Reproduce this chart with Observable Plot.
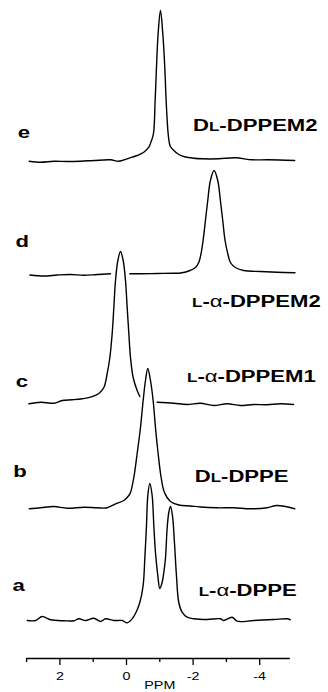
<!DOCTYPE html>
<html><head><meta charset="utf-8">
<script src="https://cdn.jsdelivr.net/npm/d3@7"></script>
<script src="https://cdn.jsdelivr.net/npm/@observablehq/plot@0.6"></script>
<style>html,body{margin:0;padding:0;background:#fff;overflow:hidden}</style>
</head><body><div id="chart"></div>
<script>
// ---------- data ----------
const traceNames = ["a", "b", "c", "d", "e"];
const compoundLabels = ["L-α-DPPE", "DL-DPPE", "L-α-DPPEM1", "L-α-DPPEM2", "DL-DPPEM2"];
const majorTicks = [2, 0, -2, -4];
const minorTicks = [3, 1, -1, -3];
const axisLabel = "PPM";

const aPpm = [2.98, 2.73, 2.53, 2.28, 1.88, 1.58, 1.43, 1.23, 0.98, 0.78, 0.63, 0.38, 0.13, -0.02, -0.17, -0.27, -0.40, -0.50, -0.55, -0.60, -0.64, -0.70, -0.77, -0.82, -0.87, -0.94, -1.00, -1.07, -1.12, -1.17, -1.22, -1.27, -1.32, -1.38, -1.44, -1.50, -1.57, -1.67, -1.82, -2.02, -2.42, -2.82, -2.92, -3.17, -3.32, -3.82, -4.42, -4.83, -4.92];
const aInt = [0, 0, 4, 0.7, -0.3, -0.3, 1.7, 0, 2.3, -1, 1.7, 0, 0, -2.3, 1.7, 7, 18, 35, 62, 95, 125, 137, 125, 95, 68, 45, 32, 38, 48, 62, 92, 108, 114, 105, 78, 45, 18, 8.3, 3.3, 1.7, 1, 1.7, 0, 3.3, -0.7, 0, 1, 1.7, 0.7];

const bPpm = [2.92, 2.58, 2.18, 1.78, 1.28, 0.88, 0.58, 0.33, 0.08, -0.07, -0.12, -0.22, -0.32, -0.42, -0.50, -0.57, -0.64, -0.72, -0.80, -0.87, -0.95, -1.04, -1.14, -1.32, -1.57, -1.92, -2.22, -2.72, -3.22, -3.72, -4.22, -4.52, -5.05];
const bInt = [-0.3, 0.7, 2, 0.3, 1.3, 0.7, 0.7, 4.7, 8, 13, 16, 31, 55, 81, 108, 128, 140, 128, 108, 81, 55, 31, 16, 7, 3.5, 2.5, 1.5, 0.7, 0.7, -0.3, 0.7, 3, -0.3];

const cPpm = [2.93, 2.58, 2.18, 1.93, 1.63, 1.33, 1.08, 0.83, 0.68, 0.58, 0.50, 0.43, 0.38, 0.33, 0.26, 0.18, 0.10, 0.03, -0.02, -0.07, -0.12, -0.20, -0.32, -0.40, -0.65, -0.92, -1.42, -1.82, -2.22, -2.62, -3.02, -3.42, -3.82, -4.22, -4.62, -5.02];
const cInt = [-0.3, 1.3, 0.3, 3, 3.7, 4.7, 6.3, 10, 16, 30, 46, 70, 96, 123, 143, 152, 143, 123, 96, 70, 46, 26, 13, 7, null, 1.3, 0.3, -1, 0.3, -2, -0.3, -2, -1, -1.3, -0.3, -1];

const dPpm = [2.90, 2.48, 2.08, 1.68, 1.28, 0.88, 0.48, 0.20, -0.10, -0.42, -0.92, -1.42, -1.62, -1.87, -2.07, -2.17, -2.24, -2.30, -2.37, -2.44, -2.52, -2.63, -2.74, -2.82, -2.89, -2.96, -3.04, -3.12, -3.27, -3.52, -4.02, -4.52, -5.06];
const dInt = [-1.5, -2.5, -1.5, -1, -1.8, -1, -0.3, null, -0.3, -0.3, 0, 0.3, 0.5, 2.5, 6, 11, 20, 33, 53, 73, 93, 103, 93, 73, 53, 33, 20, 11, 6, 3, 2, 1.3, 0.7];

const ePpm = [2.92, 2.58, 2.18, 1.78, 1.38, 0.98, 0.48, 0.23, -0.02, -0.17, -0.32, -0.52, -0.67, -0.74, -0.81, -0.86, -0.90, -0.95, -1.02, -1.09, -1.15, -1.19, -1.25, -1.29, -1.32, -1.42, -1.57, -1.77, -2.02, -2.27, -2.77, -3.27, -3.77, -4.27, -5.05];
const eInt = [-0.7, -1.7, -0.7, -1, -0.7, 0, 0.7, -0.7, 1.7, 3.3, 5, 8.3, 13.3, 19, 27, 60, 93, 127, 150, 127, 93, 60, 27, 17, 14, 10, 6, 3.5, 2.3, 1.7, 1.7, 2.7, 0.7, 0.7, 0];

// ---------- layout (stack offsets and label placement) ----------
const OFFSET = {a: 38, b: 150, c: 255, d: 385, e: 498};
const LETTER_POS = {a: [3.24, 30], b: [3.20, 31.3], c: [3.14, 16.3], d: [3.13, 26.3], e: [3.08, 23]};
const LABEL_POS = {a: [-2.17, 25], b: [-2.05, 26.3], c: [-1.82, 21.3], d: [-1.97, -33.7], e: [-2.00, 30]};
const SX = 1.3; // horizontal stretch of the lettering in the original figure

const series = {a: [aPpm, aInt], b: [bPpm, bInt], c: [cPpm, cInt], d: [dPpm, dInt], e: [ePpm, eInt]};
const rows = [];
for (const t of traceNames) {
  const [p, v] = series[t];
  p.forEach((x, i) => rows.push({trace: t, ppm: x, y: v[i] == null ? NaN : v[i] + OFFSET[t]}));
}
const letters = traceNames.map(t => ({t, x: LETTER_POS[t][0], y: OFFSET[t] + LETTER_POS[t][1]}));
const labels = traceNames.map((t, i) => ({t: compoundLabels[i], x: LABEL_POS[t][0], y: OFFSET[t] + LABEL_POS[t][1]}));

const chart = Plot.plot({
  width: 328,
  height: 692,
  marginLeft: 26.1,
  marginRight: 35.5,
  marginTop: 0,
  marginBottom: 34,
  style: {fontFamily: "'Liberation Sans', Arial, sans-serif", background: "white", color: "black"},
  x: {domain: [3, -5], label: null},
  y: {domain: [0, 658], axis: null, label: null},
  marks: [
    Plot.line(rows, {x: "ppm", y: "y", z: "trace", curve: "catmull-rom", stroke: "black", strokeWidth: 1.4}),
    Plot.ruleY([0], {x1: 3, x2: -4.92, stroke: "black", strokeWidth: 1.6}),
    Plot.axisX(majorTicks, {tickSize: 7, tickPadding: 7, strokeWidth: 1.3, fontSize: 11, tickFormat: d => String(d), label: null}),
    Plot.axisX(minorTicks, {tickSize: 4, strokeWidth: 1.3, fill: "none", label: null}),
    Plot.text([axisLabel], {frameAnchor: "bottom", lineAnchor: "top", dy: 23, fontSize: 11, text: d => d}),
    Plot.text(letters, {x: "x", y: "y", text: "t", fontSize: 17, fontWeight: "bold", textAnchor: "middle", lineAnchor: "bottom"}),
    Plot.text(labels, {x: "x", y: "y", text: "t", fontSize: 17, fontWeight: "bold", textAnchor: "start", lineAnchor: "bottom"})
  ]
});

document.getElementById("chart").appendChild(chart);

// small-caps "L" and upright-weight α inside the compound names
const NS = "http://www.w3.org/2000/svg";
d3.select(chart).selectAll("text").each(function () {
  const s = this.textContent;
  if (compoundLabels.includes(s)) {
    const m = s.match(/^(D?)(L)(-.*)$/);
    this.textContent = "";
    const add = (str, attrs) => {
      const ts = document.createElementNS(NS, "tspan");
      ts.textContent = str;
      for (const k in attrs) ts.setAttribute(k, attrs[k]);
      this.appendChild(ts);
    };
    if (m[1]) add(m[1], {});
    add(m[2], {"font-size": 13});
    m[3].split(/(α)/).forEach(p => { if (p) add(p, p === "α" ? {"font-weight": "normal"} : {}); });
  }
  const x = +(this.getAttribute("x") || 0);
  const tr = this.getAttribute("transform") || "";
  this.setAttribute("transform", `${tr} translate(${x},0) scale(${SX},1) translate(${-x},0)`);
});
</script>
</body></html>
